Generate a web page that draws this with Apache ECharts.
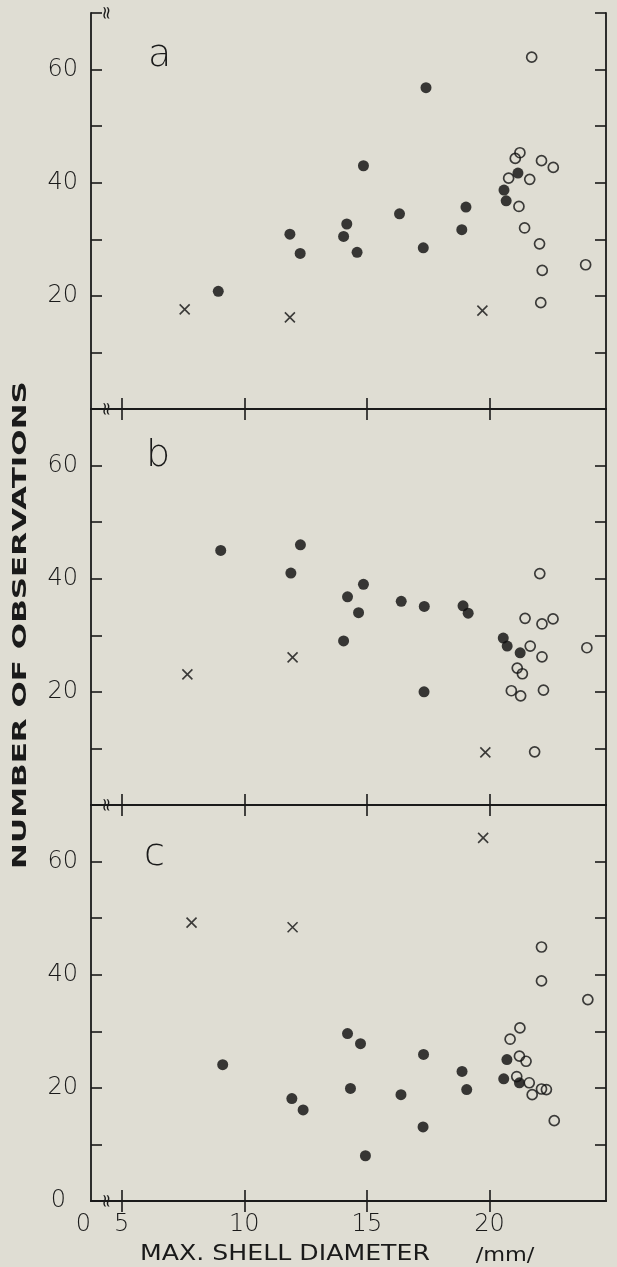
<!DOCTYPE html>
<html>
<head>
<meta charset="utf-8">
<script src="https://cdn.jsdelivr.net/npm/echarts@6/dist/echarts.min.js"></script>
<style>
html,body{margin:0;padding:0;background:#dfddd3;}
#chart{width:617px;height:1267px;}
</style>
</head>
<body>
<div id="chart"></div>
<script>
// ---------- data ----------
const panelLetters = ['a', 'b', 'c'];
const xTickValues = [5, 10, 15, 20];
const xLabelValues = [3.75, 5, 10, 15, 20];
const xTickLabels = ['0', '5', '10', '15', '20'];
const yTickLabels = ['0', '20', '40', '60'];

const aFilled = [[8.94,20.8],[11.86,30.9],[12.28,27.5],[14.05,30.5],[14.18,32.7],[14.6,27.7],[14.86,43.0],[16.33,34.5],[17.3,28.5],[17.41,56.8],[18.87,31.7],[19.04,35.7],[20.59,38.7],[20.68,36.8],[21.16,41.7]];
const aOpen = [[21.72,62.2],[21.24,45.3],[21.05,44.3],[20.78,40.8],[21.64,40.6],[22.12,43.9],[22.6,42.7],[21.2,35.8],[21.43,32.0],[22.04,29.2],[22.15,24.5],[22.09,18.8],[23.92,25.5]];
const aCross = [[7.57,17.6],[11.86,16.2],[19.71,17.4]];

const bFilled = [[9.04,45.0],[11.9,41.0],[12.29,46.0],[14.05,29.0],[14.21,36.8],[14.66,34.0],[14.86,39.0],[16.4,36.0],[17.34,35.1],[17.33,20.0],[18.92,35.2],[19.13,33.9],[20.56,29.5],[20.72,28.1],[21.25,26.9]];
const bOpen = [[22.05,40.9],[21.45,33.0],[22.14,32.0],[22.59,32.9],[21.66,28.1],[22.14,26.2],[23.97,27.8],[21.13,24.2],[21.34,23.2],[20.89,20.2],[21.27,19.3],[22.2,20.3],[21.84,9.4]];
const bCross = [[7.68,23.1],[11.97,26.1],[19.83,9.3]];

const cFilled = [[9.12,24.1],[11.94,18.1],[12.4,16.1],[14.21,29.6],[14.33,19.9],[14.74,27.8],[14.94,8.0],[16.39,18.8],[17.31,25.9],[17.29,13.1],[18.88,22.9],[19.07,19.7],[20.58,21.6],[20.71,25.0],[21.22,20.9]];
const cOpen = [[22.12,44.9],[22.12,38.9],[24.01,35.6],[21.24,30.6],[20.84,28.6],[21.22,25.6],[21.49,24.7],[21.11,22.0],[21.62,20.9],[22.12,19.8],[22.32,19.7],[21.74,18.8],[22.64,14.2]];
const cCross = [[7.85,49.2],[11.97,48.4],[19.74,64.2]];

const panels = [
  {filled: aFilled, open: aOpen, cross: aCross},
  {filled: bFilled, open: bOpen, cross: bCross},
  {filled: cFilled, open: cOpen, cross: cCross}
];

// ---------- style / layout ----------
const INK = '#1a1a1a';
const FONT = "'DejaVu Sans', sans-serif";
const X_MIN = 3.75, X_MAX = 24.75, Y_MIN = 0, Y_MAX = 70;
const gridTops = [13, 409, 805];
const GRID_H = 396;
const lineStyle = {color: INK, width: 1.8};
const tickStyle = {color: INK, width: 1.6};

const grid = gridTops.map(t => ({left: 91, width: 515, top: t, height: GRID_H, containLabel: false}));
const xAxis = [], yAxis = [], series = [];

panels.forEach((p, i) => {
  const last = i === 2;
  xAxis.push({
    gridIndex: i, type: 'value', min: X_MIN, max: X_MAX, position: 'bottom',
    axisLine: {show: true, lineStyle},
    axisTick: {show: true, inside: true, length: 11, customValues: xTickValues, lineStyle: tickStyle},
    axisLabel: last ? {
      show: true, customValues: xLabelValues, margin: 12, color: INK,
      fontFamily: FONT, fontSize: 24, fontWeight: 300, alignMinLabel: 'right',
      formatter: v => xTickLabels[xLabelValues.indexOf(v)]
    } : {show: false},
    splitLine: {show: false}
  });
  xAxis.push({
    gridIndex: i, type: 'value', min: X_MIN, max: X_MAX, position: 'top',
    axisLine: {show: true, lineStyle},
    axisTick: {show: true, inside: true, length: 11, customValues: xTickValues, lineStyle: tickStyle},
    axisLabel: {show: false}, splitLine: {show: false}
  });
  yAxis.push({
    gridIndex: i, type: 'value', min: Y_MIN, max: Y_MAX, interval: 10, position: 'left',
    axisLine: {show: true, lineStyle},
    axisTick: {show: true, inside: true, length: 11, lineStyle: tickStyle},
    axisLabel: {
      show: true, margin: 13, color: INK, fontFamily: FONT, fontSize: 24, fontWeight: 300,
      formatter: v => {
        const s = String(v);
        if (yTickLabels.indexOf(s) < 0) return '';
        if (v === 0) return last ? '{z|' + s + '}' : '';
        return s;
      },
      rich: {z: {fontFamily: FONT, fontSize: 24, fontWeight: 300, color: INK, padding: [0, 12, 0, 0]}}
    },
    splitLine: {show: false}
  });
  yAxis.push({
    gridIndex: i, type: 'value', min: Y_MIN, max: Y_MAX, interval: 10, position: 'right',
    axisLine: {show: true, lineStyle},
    axisTick: {show: true, inside: true, length: 11, lineStyle: tickStyle},
    axisLabel: {show: false}, splitLine: {show: false}
  });

  const xi = 2 * i, yi = 2 * i;
  series.push({
    type: 'scatter', xAxisIndex: xi, yAxisIndex: yi, data: p.filled,
    symbol: 'circle', symbolSize: 11, itemStyle: {color: '#0d0d0d'}, silent: true
  });
  series.push({
    type: 'scatter', xAxisIndex: xi, yAxisIndex: yi, data: p.open,
    symbol: 'circle', symbolSize: 10,
    itemStyle: {color: 'rgba(0,0,0,0)', borderColor: '#111', borderWidth: 1.7}, silent: true
  });
  series.push({
    type: 'scatter', xAxisIndex: xi, yAxisIndex: yi, data: p.cross,
    symbol: 'path://M0,0L10,10M10,0L0,10', symbolSize: 10,
    itemStyle: {color: 'rgba(0,0,0,0)', borderColor: '#111', borderWidth: 1.6}, silent: true
  });
});

const chart = echarts.init(document.getElementById('chart'));
chart.setOption({
  animation: false,
  backgroundColor: '#dfddd3',
  grid, xAxis, yAxis, series
});

// ---------- texts and axis-break marks ----------
const letterPos = [[148, 56], [146, 456], [144, 855]];
const graphic = [];
panelLetters.forEach((t, i) => {
  graphic.push({
    type: 'text', x: letterPos[i][0], y: letterPos[i][1], silent: true,
    style: {text: t, fill: INK, font: "200 38px 'DejaVu Sans', sans-serif", align: 'left', verticalAlign: 'middle'}
  });
});
graphic.push({
  type: 'text', x: 21, y: 625, rotation: Math.PI / 2, scaleX: 1.55, silent: true,
  style: {text: 'NUMBER OF OBSERVATIONS', fill: INK, font: "bold 20px 'DejaVu Sans', sans-serif", align: 'center', verticalAlign: 'middle'}
});
graphic.push({
  type: 'text', x: 285, y: 1255, scaleX: 1.2, silent: true,
  style: {text: 'MAX. SHELL DIAMETER', fill: INK, font: "21px 'DejaVu Sans', sans-serif", align: 'center', verticalAlign: 'middle'}
});
graphic.push({
  type: 'text', x: 505, y: 1256, scaleX: 1.12, silent: true,
  style: {text: '/mm/', fill: INK, font: "20px 'DejaVu Sans', sans-serif", align: 'center', verticalAlign: 'middle'}
});
const breakPts = [
  chart.convertToPixel({gridIndex: 0}, [4.4, Y_MAX]),
  chart.convertToPixel({gridIndex: 0}, [4.4, Y_MIN]),
  chart.convertToPixel({gridIndex: 1}, [4.4, Y_MIN]),
  chart.convertToPixel({gridIndex: 2}, [4.4, Y_MIN])
];
breakPts.forEach(pt => {
  graphic.push({
    type: 'text', x: pt[0], y: pt[1], rotation: Math.PI / 2, silent: true,
    style: {text: '\u2248', fill: INK, font: "18px 'DejaVu Sans', sans-serif", align: 'center', verticalAlign: 'middle'}
  });
});
chart.setOption({graphic});
</script>
</body>
</html>
